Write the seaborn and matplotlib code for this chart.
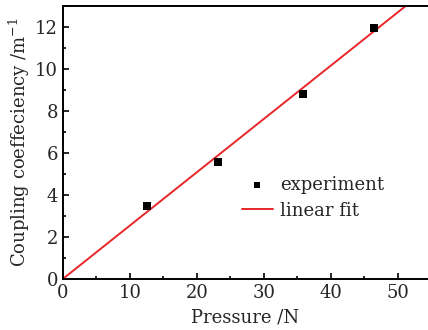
import numpy as np
import pandas as pd
import matplotlib
matplotlib.use("Agg")
import matplotlib.pyplot as plt
from matplotlib.ticker import MultipleLocator
import seaborn as sns

# experiment points
pressure = [12.5, 23.2, 35.8, 46.4]
coupling = [3.45, 5.58, 8.8, 11.97]

# linear fit line (end points)
fit_x = [0.0, 55.0]
fit_y = [0.0, 13.97]

sns.set_theme(style="ticks")
plt.rcParams["font.family"] = ["DejaVu Serif"]
plt.rcParams["mathtext.fontset"] = "dejavuserif"

fig, ax = plt.subplots(figsize=(4.28, 3.30), dpi=100)
fig.subplots_adjust(left=0.147, right=1.0, bottom=0.155, top=0.982)

exp_df = pd.DataFrame({"x": pressure, "y": coupling})
fit_df = pd.DataFrame({"x": fit_x, "y": fit_y})

sns.lineplot(data=fit_df, x="x", y="y", ax=ax, color="#e8262a", lw=1.4,
             label="linear fit", zorder=2)
sns.scatterplot(data=exp_df, x="x", y="y", ax=ax, marker="s", s=40, color="black",
                edgecolor="black", linewidth=0, label="experiment", zorder=3)

ax.set_xlim(0, 54.5)
ax.set_ylim(0, 13.0)
ax.xaxis.set_major_locator(MultipleLocator(10))
ax.xaxis.set_minor_locator(MultipleLocator(5))
ax.yaxis.set_major_locator(MultipleLocator(2))
ax.yaxis.set_minor_locator(MultipleLocator(1))
ax.tick_params(which="both", direction="in", labelsize=13, width=1.2, color="black")
ax.tick_params(which="major", length=4)
ax.tick_params(which="minor", length=2.5)
for s in ["left", "bottom", "top"]:
    ax.spines[s].set_linewidth(1.4)
    ax.spines[s].set_color("black")
ax.spines["right"].set_visible(False)

ax.set_xlabel("Pressure /N", fontsize=13, labelpad=5)
ax.set_ylabel("Coupling coeffeciency /m$^{-1}$", fontsize=13, labelpad=2)

handles, labels = ax.get_legend_handles_labels()
order = [labels.index("experiment"), labels.index("linear fit")]
ax.legend([handles[i] for i in order], [labels[i] for i in order],
          loc="upper left", bbox_to_anchor=(0.455, 0.425), frameon=False,
          fontsize=13, handlelength=1.75, handletextpad=0.4, borderpad=0.2,
          labelspacing=0.45, markerscale=0.7)

fig.savefig("out.png", dpi=100)
